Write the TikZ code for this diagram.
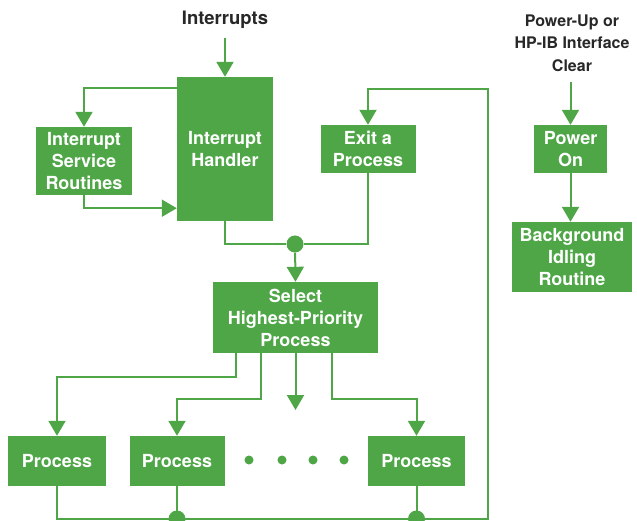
\documentclass[tikz,border=0pt]{standalone}
\usepackage{fontspec}
\setmainfont{TeX Gyre Heros}
\usepackage{xcolor}
\usepackage{tikz}
\usetikzlibrary{arrows.meta,calc}
\definecolor{hpgreen}{RGB}{78,166,70}
\definecolor{labeltext}{RGB}{40,40,40}
\pgfkeys{tikz/mybox/.style={fill=hpgreen,text=white,font=\bfseries\fontsize{18}{22}\selectfont,align=center,inner sep=0pt}}
\pgfkeys{tikz/mylabel/.style={text=labeltext,font=\bfseries\fontsize{16}{22.5}\selectfont,align=center,inner sep=0pt}}
\pgfkeys{tikz/myline/.style={draw=hpgreen,line width=2pt}}
\pgfkeys{tikz/myflow/.style={myline,-{Triangle[width=17pt,length=15pt]}}}
\pgfkeys{tikz/myjoint/.style={circle,fill=hpgreen,inner sep=0pt,minimum size=17pt}}
\newcommand*\mydots[1]{
    \foreach \x in {#1}
        \fill[hpgreen] (\x,460) circle (4.5pt);
}

\begin{document}
\begin{tikzpicture}[x=1pt,y=-1pt]
    \useasboundingbox (0,0) rectangle (637,521);
    % left part
    \node[mylabel,font=\bfseries\fontsize{18.5}{22}\selectfont] (intr) at (225,20) {Interrupts};
    \node[mybox,minimum width=96pt,minimum height=144pt] (handler) at (225,149) {Interrupt\\Handler};
    \node[mybox,minimum width=96pt,minimum height=68pt] (isr) at (84,161) {Interrupt\\Service\\Routines};
    \node[mybox,minimum width=95pt,minimum height=48pt] (exit) at (368,149) {Exit a\\Process};
    \node[myjoint] (jn) at (295,244) {};
    \node[mybox,minimum width=165pt,minimum height=71pt] (select) at (295.5,317.5) {Select\\Highest-Priority\\Process};
    \node[mybox,minimum width=98pt,minimum height=50pt] (p1) at (57,461) {Process};
    \node[mybox,minimum width=95pt,minimum height=50pt] (p2) at (177,461) {Process};
    \node[mybox,minimum width=97pt,minimum height=50pt] (p3) at (416.5,461) {Process};
    \mydots{249,282,313,344}
    \coordinate (more) at (295.5,410);
    \coordinate (br) at (488,519);
    \coordinate (tr) at (488,89);

    \draw[myflow,shorten <=9pt] (intr.south) -- (handler.north);
    \draw[myflow] ([yshift=-11pt]handler.north west) -| (isr.north);
    \draw[myflow] (isr.south) |- ([yshift=13pt]handler.south west);
    \draw[myline] (handler.south) |- (jn);
    \draw[myline] (exit.south) |- (jn);
    \draw[myflow] (jn) -- (select.north);
    \draw[myflow] ($(select.south west)+(23,0)$) -- ++(0,24) -| (p1.north);
    \draw[myflow] ($(select.south west)+(48,0)$) -- ++(0,46) -| (p2.north);
    \draw[myflow] (select.south) -- (more);
    \draw[myflow] ($(select.south east)+(-46,0)$) -- ++(0,46) -| (p3.north);
    \draw[myflow] (p1.south) |- (br) -- (tr) -| (exit.north);
    \draw[myline] (p2.south) -- (p2.south |- br) node[myjoint] {};
    \draw[myline] (p3.south) -- (p3.south |- br) node[myjoint] {};

    % right part
    \node[mylabel] (pwr) at (572,43) {Power-Up or\\HP-IB Interface\\Clear};
    \node[mybox,minimum width=73pt,minimum height=48pt] (pon) at (570.5,149) {Power\\On};
    \node[mybox,minimum width=120pt,minimum height=70pt] (idle) at (572,257) {Background\\Idling\\Routine};
    \draw[myflow,shorten <=10pt] (pwr.south -| pon) -- (pon.north);
    \draw[myflow] (pon.south) -- (idle.north -| pon);
\end{tikzpicture}
\end{document}
